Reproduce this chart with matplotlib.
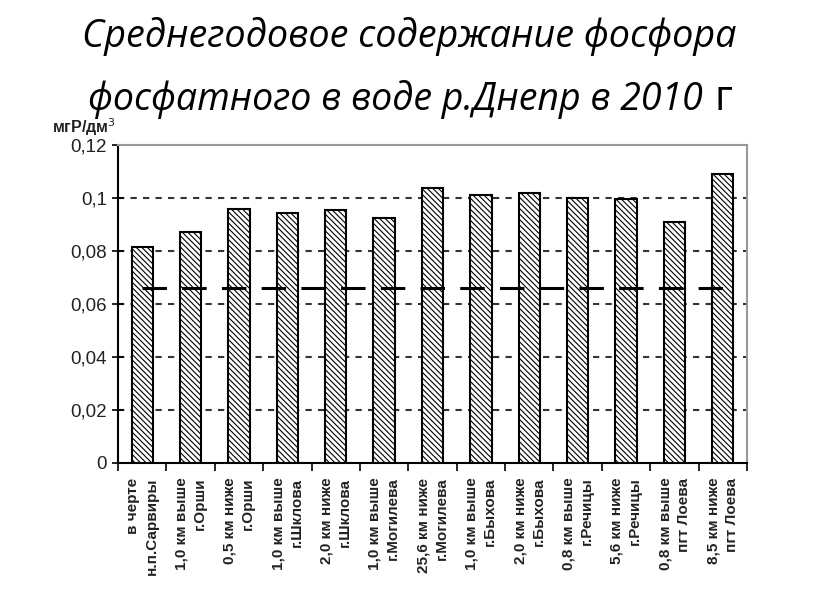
import matplotlib
matplotlib.use("Agg")
import matplotlib.pyplot as plt
import numpy as np

categories = [
    "в черте\nн.п.Сарвиры",
    "1,0 км выше\nг.Орши",
    "0,5 км ниже\nг.Орши",
    "1,0 км выше\nг.Шклова",
    "2,0 км ниже\nг.Шклова",
    "1,0 км выше\nг.Могилева",
    "25,6 км ниже\nг.Могилева",
    "1,0 км выше\nг.Быхова",
    "2,0 км ниже\nг.Быхова",
    "0,8 км выше\nг.Речицы",
    "5,6 км ниже\nг.Речицы",
    "0,8 км выше\nпгт Лоева",
    "8,5 км ниже\nпгт Лоева",
]
values = [0.0814, 0.0871, 0.0960, 0.0942, 0.0955, 0.0923, 0.1038,
          0.1011, 0.1019, 0.0999, 0.0995, 0.0908, 0.1089]
limit_value = 0.066
yticks = [0, 0.02, 0.04, 0.06, 0.08, 0.10, 0.12]
ytick_labels = ["0", "0,02", "0,04", "0,06", "0,08", "0,1", "0,12"]
title_line1 = "Среднегодовое содержание фосфора"
title_line2 = "фосфатного в воде р.Днепр в 2010"
title_tail = "г"
ylabel = "мгР/дм$^3$"

plt.rcParams['font.family'] = ['Liberation Sans', 'DejaVu Sans']
plt.rcParams['hatch.linewidth'] = 0.8

fig = plt.figure(figsize=(8.16, 6.13), dpi=100)
ax = fig.add_axes([0.1446, 0.2447, 0.9154 - 0.1446, 0.7635 - 0.2447])

x = np.arange(len(categories))
ax.bar(x, values, width=0.44, color='white', edgecolor='black',
       linewidth=1.5, hatch='\\' * 6, zorder=3)

# limit line
ln, = ax.plot([x[0], x[-1]], [limit_value, limit_value], color='black',
              linewidth=2.2, zorder=4)
ln.set_dashes((8, 5))

ax.set_xlim(-0.5, len(categories) - 0.5)
ax.set_ylim(0, 0.12)
ax.set_yticks(yticks)
ax.set_yticklabels(ytick_labels, fontsize=13.5, color='#222222')
for yv in yticks[1:-1]:
    ax.axhline(yv, color='#333333', linewidth=1.5, linestyle=(0, (3, 3)), zorder=1)

ax.set_xticks(np.arange(-0.5, len(categories)), minor=False)
ax.set_xticklabels([])
ax.tick_params(axis='x', direction='out', length=6, width=1.2, color='black')
ax.tick_params(axis='y', direction='inout', length=8, width=1.2, color='black', pad=4)

for xi, lab in zip(x, categories):
    ax.text(xi, -0.0055, lab, rotation=90, ha='center', va='top',
            multialignment='right', fontsize=11, linespacing=1.4,
            fontweight='bold', color='#222222', transform=ax.transData)

ax.spines['left'].set_color('black')
ax.spines['left'].set_linewidth(1.5)
ax.spines['bottom'].set_color('black')
ax.spines['bottom'].set_linewidth(1.5)
ax.spines['top'].set_color('#999999')
ax.spines['top'].set_linewidth(1.5)
ax.spines['right'].set_color('#999999')
ax.spines['right'].set_linewidth(1.5)

fig.text(52 / 816, 1 - 127 / 613, ylabel, fontsize=11.5, fontweight='bold',
         color='#222222', ha='left', va='center')

fig.text(82 / 816, 1 - 47 / 613, title_line1, fontsize=27.2, style='italic',
         family=['Open Sans', 'DejaVu Sans'], ha='left', va='baseline')
fig.text(88 / 816, 1 - 110 / 613, title_line2, fontsize=27.0, style='italic',
         family=['Open Sans', 'DejaVu Sans'], ha='left', va='baseline')
fig.text(714 / 816, 1 - 110 / 613, title_tail, fontsize=30,
         family=['Open Sans', 'DejaVu Sans'], ha='left', va='baseline')

fig.savefig("out.png", dpi=100)
